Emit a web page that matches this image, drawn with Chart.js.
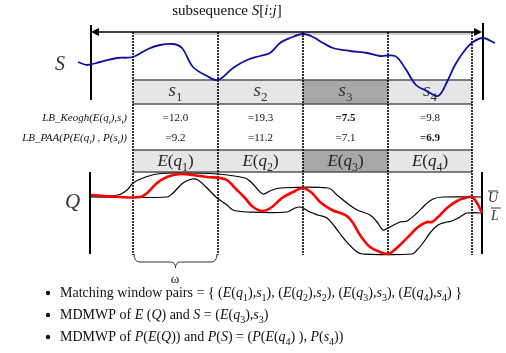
<!DOCTYPE html>
<html>
<head>
<meta charset="utf-8">
<script src="https://cdn.jsdelivr.net/npm/chart.js@4"></script>
<style>
  html, body { margin: 0; background: #fff; }
  #wrap { width: 506px; height: 353px; }
</style>
</head>
<body>
<div id="wrap"><canvas id="c" width="506" height="353"></canvas></div>
<script>
// subsequence S (blue)
const sX = [78, 87, 100, 117, 133, 148, 160, 173, 182, 193, 207, 218, 233, 247, 260, 270, 280, 290, 303, 313, 323, 333, 350, 367, 380, 395, 405, 416, 427, 438, 447, 455, 465, 473, 483, 495];
const sY = [62, 65, 62, 58, 57, 49, 45, 44, 48, 67, 76, 80, 68, 60, 56, 53, 43, 38, 34, 37, 43, 48, 51, 53, 56, 56, 68, 85, 91, 96, 82, 65, 50, 42, 38, 43];

// query Q (red)
const qX = [91, 120, 140, 147, 157, 167, 180, 193, 207, 220, 227, 235, 245, 253, 263, 272, 282, 293, 303, 312, 320, 332, 343, 348, 353, 360, 370, 380, 388, 392, 400, 410, 418, 427, 432, 438, 447, 457, 465, 472, 477, 482];
const qY = [195, 197, 197, 193, 183, 177, 174, 175, 177, 178, 180, 188, 198, 207, 211, 207, 198, 192, 188, 193, 202, 210, 214, 217, 223, 235, 247, 252, 254, 252, 245, 235, 227, 222, 222, 217, 208, 201, 198, 197, 203, 213];

// envelope U (upper) and L (lower)
const uX = [91, 118, 127, 133, 143, 157, 177, 217, 245, 252, 263, 270, 280, 328, 337, 347, 357, 370, 377, 383, 388, 392, 400, 407, 417, 425, 433, 443, 482];
const uY = [196, 195, 190, 183, 178, 174, 173, 174, 178, 183, 194, 191, 188, 188, 195, 203, 210, 215, 222, 230, 228, 226, 222, 221, 213, 205, 199, 197, 197];
const lX = [91, 167, 173, 183, 192, 198, 207, 217, 227, 233, 247, 287, 295, 300, 303, 310, 318, 327, 335, 345, 357, 363, 412, 417, 423, 430, 438, 447, 452, 460, 467, 482];
const lY = [197, 197, 193, 183, 179, 180, 188, 198, 205, 210, 212, 212, 208, 207, 208, 212, 215, 218, 227, 240, 252, 254, 254, 250, 243, 233, 225, 222, 221, 217, 213, 213];

// window boundaries and table
const windowEdges = [133, 218, 303, 388, 472];
const sLabels = ['*s*~1', '*s*~2', '*s*~3', '*s*~4'];
const eLabels = ['*E*(*q*~1)', '*E*(*q*~2)', '*E*(*q*~3)', '*E*(*q*~4)'];
const lbKeogh = ['12.0', '19.3', '7.5', '9.8'];
const lbPaa = ['9.2', '11.2', '7.1', '6.9'];
const bestWindow = 2;   // shaded column
const bestKeogh = 2;    // bold
const bestPaa = 3;      // bold

const bullets = [
  'Matching window pairs = { (*E*(*q*~1),*s*~1), (*E*(*q*~2),*s*~2), (*E*(*q*~3),*s*~3), (*E*(*q*~4),*s*~4) }',
  'MDMWP of *E* (*Q*) and *S* = (*E*(*q*~3),*s*~3)',
  'MDMWP of *P*(*E*(*Q*)) and *P*(*S*) = (*P*(*E*(*q*~4) ), *P*(*s*~4))'
];

const SERIF = '"Liberation Serif", "DejaVu Serif", serif';

// '*' toggles italic, '~' makes the next char a subscript
function parse(str, italic) {
  const out = [];
  let it = italic, sub = false;
  for (const c of str) {
    if (c === '*') { it = !it; continue; }
    if (c === '~') { sub = true; continue; }
    const last = out[out.length - 1];
    if (last && !sub && !last.sub && last.it === it) last.t += c;
    else out.push({ t: c, it: it, sub: sub });
    sub = false;
  }
  return out;
}

function drawRich(ctx, str, x, y, size, opt) {
  opt = opt || {};
  const parts = parse(str, !!opt.italic);
  const font = p => (p.it ? 'italic ' : '') + (opt.bold ? 'bold ' : '') +
    (p.sub ? Math.round(size * 0.68) : size) + 'px ' + SERIF;
  let w = 0;
  parts.forEach(p => { ctx.font = font(p); p.w = ctx.measureText(p.t).width; w += p.w; });
  let cx = opt.align === 'center' ? x - w / 2 : opt.align === 'right' ? x - w : x;
  ctx.fillStyle = opt.color || '#111';
  ctx.textAlign = 'left';
  ctx.textBaseline = 'alphabetic';
  parts.forEach(p => {
    ctx.font = font(p);
    ctx.fillText(p.t, cx, y + (p.sub ? size * 0.28 : 0));
    cx += p.w;
  });
  return w;
}

function line(ctx, x0, y0, x1, y1) {
  ctx.beginPath(); ctx.moveTo(x0, y0); ctx.lineTo(x1, y1); ctx.stroke();
}

const diagram = {
  id: 'diagram',
  beforeDatasetsDraw(chart) {
    const ctx = chart.ctx;
    const X = v => chart.scales.x.getPixelForValue(v);
    const Y = v => chart.scales.y.getPixelForValue(v);
    ctx.save();

    // table cells
    for (let i = 0; i < 4; i++) {
      const x0 = X(windowEdges[i]), x1 = X(windowEdges[i + 1]);
      ctx.fillStyle = i === bestWindow ? '#a8a8a8' : '#e6e6e6';
      ctx.fillRect(x0, Y(80), x1 - x0, Y(104) - Y(80));
      ctx.fillRect(x0, Y(150), x1 - x0, Y(172) - Y(150));
    }
    ctx.strokeStyle = '#555';
    ctx.lineWidth = 1.5;
    [80, 104, 150, 172].forEach(v => line(ctx, X(133), Y(v), X(472), Y(v)));
    ctx.strokeStyle = '#999';
    ctx.lineWidth = 1;
    line(ctx, X(133), Y(34), X(472), Y(34));

    // window boundaries (dotted)
    ctx.strokeStyle = '#000';
    ctx.lineWidth = 1.6;
    ctx.setLineDash([2, 1]);
    windowEdges.forEach(v => line(ctx, X(v), Y(32), X(v), Y(255)));
    ctx.setLineDash([]);

    // outer bars
    ctx.lineWidth = 2;
    line(ctx, X(91), Y(25), X(91), Y(100));
    line(ctx, X(483), Y(23), X(483), Y(100));
    line(ctx, X(90), Y(172), X(90), Y(254));
    line(ctx, X(482), Y(172), X(482), Y(254));

    // double arrow
    ctx.lineWidth = 1.6;
    line(ctx, X(93), Y(32), X(478), Y(32));
    ctx.fillStyle = '#000';
    ctx.beginPath();
    ctx.moveTo(X(91), Y(32)); ctx.lineTo(X(99), Y(28)); ctx.lineTo(X(99), Y(36)); ctx.closePath(); ctx.fill();
    ctx.beginPath();
    ctx.moveTo(X(482), Y(32)); ctx.lineTo(X(474), Y(28)); ctx.lineTo(X(474), Y(36)); ctx.closePath(); ctx.fill();

    // brace under the first window
    ctx.strokeStyle = '#333';
    ctx.lineWidth = 1;
    const a = X(windowEdges[0]) + 1, b = X(windowEdges[1]) - 1, m = (a + b) / 2;
    ctx.beginPath();
    ctx.moveTo(a, Y(254));
    ctx.quadraticCurveTo(a, Y(262), a + 6, Y(262));
    ctx.lineTo(m - 5, Y(262));
    ctx.quadraticCurveTo(m, Y(262), m, Y(268));
    ctx.quadraticCurveTo(m, Y(262), m + 5, Y(262));
    ctx.lineTo(b - 6, Y(262));
    ctx.quadraticCurveTo(b, Y(262), b, Y(254));
    ctx.stroke();

    // cell texts
    for (let i = 0; i < 4; i++) {
      const cx = (X(windowEdges[i]) + X(windowEdges[i + 1])) / 2;
      drawRich(ctx, sLabels[i], cx, Y(96), 19, { align: 'center', color: '#333' });
      drawRich(ctx, eLabels[i], cx, Y(166), 17, { align: 'center', color: '#222' });
      drawRich(ctx, '=' + lbKeogh[i], cx, Y(121), 11, { align: 'center', bold: i === bestKeogh });
      drawRich(ctx, '=' + lbPaa[i], cx, Y(141), 11, { align: 'center', bold: i === bestPaa });
    }
    ctx.restore();
  },
  afterDatasetsDraw(chart) {
    const ctx = chart.ctx;
    const X = v => chart.scales.x.getPixelForValue(v);
    const Y = v => chart.scales.y.getPixelForValue(v);
    ctx.save();
    drawRich(ctx, 'subsequence *S*[*i*:*j*]', X(227), Y(15), 15, { align: 'center' });
    drawRich(ctx, '*S*', X(55), Y(70), 20, { color: '#333' });
    drawRich(ctx, '*Q*', X(65), Y(208), 21, { color: '#333' });
    drawRich(ctx, 'LB_Keogh(E(q~i),s~i)', X(127), Y(121), 11, { align: 'right', italic: true });
    drawRich(ctx, 'LB_PAA(P(E(q~i) , P(s~i))', X(127), Y(141), 11, { align: 'right', italic: true });

    // envelope labels with bars
    ctx.strokeStyle = '#333';
    ctx.lineWidth = 1;
    let w = drawRich(ctx, '*U*', X(488), Y(202), 14, { color: '#333' });
    line(ctx, X(488), Y(191), X(488) + w, Y(191));
    w = drawRich(ctx, '*L*', X(491), Y(220), 14, { color: '#333' });
    line(ctx, X(491), Y(208), X(491) + w + 2, Y(208));

    drawRich(ctx, 'ω', X(175), Y(283), 13, { align: 'center' });

    // bullet list
    bullets.forEach((t, i) => {
      const by = Y(297 + i * 22);
      ctx.fillStyle = '#111';
      ctx.beginPath(); ctx.arc(X(48), by - 4, 2.2, 0, Math.PI * 2); ctx.fill();
      drawRich(ctx, t, X(60), by, 14);
    });
    ctx.restore();
  }
};

const toPts = (xs, ys) => xs.map((x, i) => ({ x: x, y: ys[i] }));

new Chart(document.getElementById('c'), {
  type: 'scatter',
  data: {
    datasets: [
      { label: 'Q', data: toPts(qX, qY), borderColor: '#ff0000', borderWidth: 2.6 },
      { label: 'U', data: toPts(uX, uY), borderColor: '#000', borderWidth: 1.2 },
      { label: 'L', data: toPts(lX, lY), borderColor: '#000', borderWidth: 1.2 },
      { label: 'S', data: toPts(sX, sY), borderColor: '#1010a0', borderWidth: 1.8 }
    ].map(d => Object.assign(d, { showLine: true, pointRadius: 0, tension: 0.35, fill: false }))
  },
  options: {
    responsive: false,
    animation: false,
    events: [],
    layout: { padding: 0 },
    scales: {
      x: { type: 'linear', min: 0, max: 506, display: false },
      y: { type: 'linear', min: 0, max: 353, reverse: true, display: false }
    },
    plugins: { legend: { display: false }, tooltip: { enabled: false } }
  },
  plugins: [diagram]
});
</script>
</body>
</html>
